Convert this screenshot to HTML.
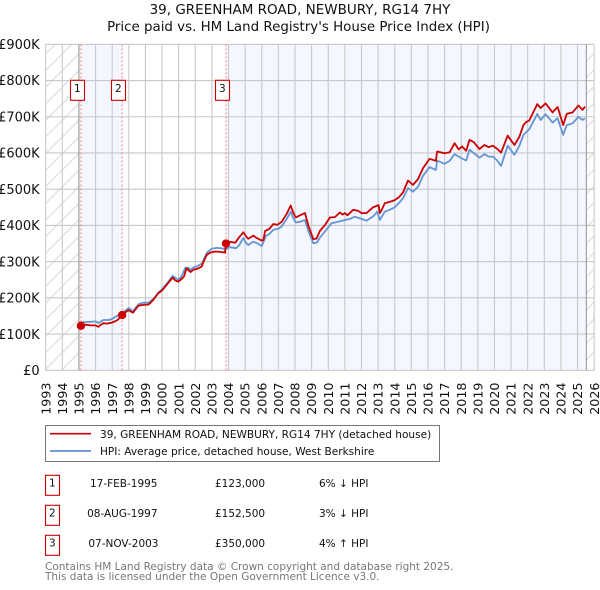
<!DOCTYPE html>
<html>
<head>
<meta charset="utf-8">
<title>39, GREENHAM ROAD, NEWBURY, RG14 7HY</title>
<style>
html,body{margin:0;padding:0;background:#fff;}
body{width:600px;height:590px;overflow:hidden;position:relative;}
svg{position:absolute;left:0;top:0;font-family:"DejaVu Sans",sans-serif;}
</style>
</head>
<body>
<svg id="c" width="600" height="590" viewBox="0 0 600 590">
<defs>
<pattern id="hatch" patternUnits="userSpaceOnUse" width="16.6" height="16.6">
<path d="M-2 2L2 -2M0 16.6L16.6 0M14.6 18.6L18.6 14.6" stroke="#d8d8d8" stroke-width="1" fill="none"/>
</pattern>
<clipPath id="plot-clip"><rect x="45.7" y="44.3" width="548.6" height="326"/></clipPath>
</defs>
<g id="bands"></g>
<g id="grid"></g>
<g id="sales"></g>
<g id="series" clip-path="url(#plot-clip)"></g>
<g id="dots"></g>
<g id="axes"></g>
<text x="300" y="14" text-anchor="middle" font-size="13.5" fill="#111">39, GREENHAM ROAD, NEWBURY, RG14 7HY</text>
<text x="298.5" y="31" text-anchor="middle" font-size="13.4" fill="#111">Price paid vs. HM Land Registry's House Price Index (HPI)</text>

<g>
<rect x="45.5" y="425.5" width="394" height="36" fill="#fff" stroke="#777" stroke-width="1"/>
<line x1="50" y1="433.7" x2="91" y2="433.7" stroke="#cc0000" stroke-width="1.7"/>
<text x="100" y="438" font-size="10.55" fill="#111">39, GREENHAM ROAD, NEWBURY, RG14 7HY (detached house)</text>
<line x1="50" y1="451" x2="91" y2="451" stroke="#6090d0" stroke-width="1.7"/>
<text x="100" y="455" font-size="10.55" fill="#111">HPI: Average price, detached house, West Berkshire</text>
</g>

<g font-size="10.5" fill="#111">
<g>
<rect x="45.5" y="475.3" width="14" height="20" fill="#fff" stroke="#c00" stroke-width="1.1"/>
<text x="52.3" y="486.7" text-anchor="middle">1</text>
<text x="157.5" y="487" text-anchor="end">17-FEB-1995</text>
<text x="215" y="487">£123,000</text>
<text x="319" y="487">6% ↓ HPI</text>
</g>
<g>
<rect x="45.5" y="505.3" width="14" height="20" fill="#fff" stroke="#c00" stroke-width="1.1"/>
<text x="52.3" y="516.7" text-anchor="middle">2</text>
<text x="157.5" y="517" text-anchor="end">08-AUG-1997</text>
<text x="215" y="517">£152,500</text>
<text x="319" y="517">3% ↓ HPI</text>
</g>
<g>
<rect x="45.5" y="535.3" width="14" height="20" fill="#fff" stroke="#c00" stroke-width="1.1"/>
<text x="52.3" y="546.7" text-anchor="middle">3</text>
<text x="158.5" y="547" text-anchor="end">07-NOV-2003</text>
<text x="215" y="547">£350,000</text>
<text x="319" y="547">4% ↑ HPI</text>
</g>
</g>
<text x="45" y="570" font-size="10.5" fill="#777">Contains HM Land Registry data © Crown copyright and database right 2025.</text>
<text x="45" y="580" font-size="10.5" fill="#777">This data is licensed under the Open Government Licence v3.0.</text>
</svg>
<script>
var yearTicks = [1993,1994,1995,1996,1997,1998,1999,2000,2001,2002,2003,2004,2005,2006,2007,2008,2009,2010,2011,2012,2013,2014,2015,2016,2017,2018,2019,2020,2021,2022,2023,2024,2025,2026];
var valueTicks = [0,100,200,300,400,500,600,700,800,900];
var valueLabels = ['£0','£100K','£200K','£300K','£400K','£500K','£600K','£700K','£800K','£900K'];

var priceYears = [1995.12,1995.4,1995.7,1996.0,1996.17,1996.3,1996.47,1996.7,1997.0,1997.3,1997.6,1997.8,1997.97,1998.1,1998.25,1998.4,1998.57,1998.9,1999.17,1999.3,1999.47,1999.77,2000.0,2000.28,2000.64,2000.8,2000.98,2001.15,2001.32,2001.48,2001.6,2001.72,2001.9,2002.1,2002.38,2002.55,2002.68,2002.9,2003.19,2003.5,2003.79,2003.85,2004.09,2004.4,2004.6,2004.89,2005.05,2005.19,2005.49,2005.7,2006.0,2006.1,2006.2,2006.45,2006.7,2006.95,2007.2,2007.5,2007.74,2007.9,2008.04,2008.3,2008.6,2008.8,2009.1,2009.3,2009.5,2009.8,2010.1,2010.4,2010.7,2010.85,2011.0,2011.15,2011.5,2011.8,2012.0,2012.3,2012.7,2012.9,2013.03,2013.1,2013.25,2013.4,2013.7,2014.0,2014.25,2014.5,2014.8,2015.1,2015.4,2015.7,2016.1,2016.48,2016.55,2017.0,2017.3,2017.6,2017.85,2018.05,2018.3,2018.5,2018.75,2019.1,2019.4,2019.65,2019.9,2020.15,2020.4,2020.8,2021.2,2021.5,2021.74,2021.9,2022.1,2022.58,2022.78,2023.08,2023.5,2023.8,2024.14,2024.35,2024.7,2025.05,2025.3,2025.45];
var priceValues = [123,126,124,124,120,125,130,129,132,138,152.5,160,166,163,159,168,178,181,181,186,194,213,220,236,256,248,245,251,259,282,276,271,278,280,286,305,318,325,328,327,325,350,355,352,365,381,370,363,372,365,358,360,385,390,404,402,410,432,455,435,422,428,434,400,362,364,385,401,422,423,436,430,434,428,443,440,434,434,450,454,456,434,446,461,465,470,478,491,524,512,528,558,584,578,604,599,602,627,610,618,606,636,630,611,622,616,620,612,601,648,622,645,677,685,690,735,724,737,712,727,677,708,712,731,719,728];

var hpiYears = [1995.0,1995.3,1995.7,1996.0,1996.17,1996.3,1996.47,1996.8,1997.0,1997.5,1997.8,1998.0,1998.25,1998.4,1998.6,1998.9,1999.2,1999.5,1999.8,2000.0,2000.3,2000.64,2000.8,2001.0,2001.2,2001.4,2001.6,2001.7,2001.9,2002.1,2002.4,2002.7,2003.0,2003.3,2003.5,2003.85,2004.09,2004.45,2004.65,2004.89,2005.05,2005.19,2005.49,2005.75,2006.0,2006.25,2006.45,2006.7,2007.0,2007.2,2007.5,2007.74,2007.9,2008.04,2008.3,2008.6,2008.8,2009.1,2009.3,2009.5,2009.8,2010.2,2010.6,2011.0,2011.3,2011.6,2012.0,2012.3,2012.7,2012.95,2013.1,2013.4,2013.7,2014.0,2014.25,2014.5,2014.8,2015.1,2015.4,2015.7,2016.1,2016.48,2016.55,2017.0,2017.3,2017.6,2018.0,2018.3,2018.5,2018.75,2019.1,2019.4,2019.65,2019.9,2020.15,2020.4,2020.8,2021.2,2021.5,2021.74,2022.1,2022.58,2022.78,2023.08,2023.5,2023.8,2024.14,2024.35,2024.7,2025.05,2025.3,2025.45];
var hpiValues = [130,133,134,135,131,134,139,139,142,156,165,172,163,172,183,187,187,198,215,224,240,261,255,250,262,283,283,277,284,287,295,325,336,338,337,335,340,337,346,365,352,346,355,350,343,371,376,388,391,397,418,438,420,408,410,415,385,351,352,366,383,406,410,415,418,424,418,413,425,438,415,438,443,450,462,475,503,493,507,537,561,553,579,570,578,597,586,579,609,600,587,597,590,590,580,564,620,595,620,650,666,708,691,707,684,696,650,677,682,700,691,696];

var saleYears = [1995.12,1997.6,2003.85];
var saleValues = [123,152.5,350];
var saleLabels = ['1','2','3'];

var X0 = 45.7, YEAR_PX = 16.62, Y0 = 370.3, K_PX = 0.3622;
var NS = 'http://www.w3.org/2000/svg';
function xScale(year){ return X0 + (year - 1993) * YEAR_PX; }
function yScale(k){ return Y0 - k * K_PX; }
function mk(tag, attrs, parent, text){
  var el = document.createElementNS(NS, tag);
  for (var k in attrs) el.setAttribute(k, attrs[k]);
  if (text !== undefined) el.textContent = text;
  parent.appendChild(el);
  return el;
}
function pathFrom(xs, ys){
  return xs.map(function(v, i){ return (i ? 'L' : 'M') + xScale(v).toFixed(1) + ' ' + yScale(ys[i]).toFixed(1); }).join('');
}

var bands = document.getElementById('bands');
var grid = document.getElementById('grid');
var sales = document.getElementById('sales');
var series = document.getElementById('series');
var dots = document.getElementById('dots');
var axes = document.getElementById('axes');
var plotTop = yScale(900), plotBottom = yScale(0), plotRight = xScale(2026);
var dataStart = 1995, dataEnd = 2025.53;

var band;
band = mk('rect', {x: xScale(1993), y: plotTop, width: xScale(dataStart) - xScale(1993), height: plotBottom - plotTop, fill: 'url(#hatch)'}, bands);


band = mk('rect', {x: xScale(dataEnd), y: plotTop, width: plotRight - xScale(dataEnd), height: plotBottom - plotTop, fill: 'url(#hatch)'}, bands);


band = mk('rect', {x: xScale(saleYears[0]), y: plotTop, width: xScale(saleYears[1]) - xScale(saleYears[0]), height: plotBottom - plotTop, fill: '#f4f7ff'}, bands);


band = mk('rect', {x: xScale(saleYears[2]), y: plotTop, width: xScale(dataEnd) - xScale(saleYears[2]), height: plotBottom - plotTop, fill: '#f4f7ff'}, bands);



yearTicks.forEach(function(y){
  var px = xScale(y);
  var g = mk('line', {x1: px, x2: px, y1: plotTop, y2: plotBottom, stroke: '#c8c8c8', 'stroke-width': 1.1}, grid);
  
  
  var t = mk('text', {x: 0, y: 0, 'font-size': 12.7, fill: '#111', 'text-anchor': 'end', transform: 'translate(' + (px + 4.6) + ',382.5) rotate(-90)'}, axes, String(y));
  
  
});
valueTicks.forEach(function(v, i){
  var py = yScale(v);
  var g = mk('line', {x1: xScale(1993), x2: plotRight, y1: py, y2: py, stroke: '#c8c8c8', 'stroke-width': 1.1}, grid);
  
  
  var t = mk('text', {x: 39.7, y: py + 4.7, 'font-size': 13, fill: '#111', 'text-anchor': 'end'}, axes, valueLabels[i]);
  
  
});

var edge;
edge = mk('line', {x1: xScale(dataStart), x2: xScale(dataStart), y1: plotTop, y2: plotBottom, stroke: '#999', 'stroke-width': 1.1}, grid);


edge = mk('line', {x1: xScale(dataEnd), x2: xScale(dataEnd), y1: plotTop, y2: plotBottom, stroke: '#999', 'stroke-width': 1.1}, grid);



saleYears.forEach(function(y, i){
  var px = xScale(y);
  var l = mk('line', {x1: px, x2: px, y1: plotTop, y2: plotBottom, stroke: '#f08080', 'stroke-width': 1, 'stroke-dasharray': '2 2'}, sales);
  
  
  var b = mk('rect', {x: Math.round(px) - 9.5 - (i === 0 ? 1 : 0) + (i === 0 ? 0 : -1), y: 80.3, width: 14, height: 20, fill: '#fff', stroke: '#c00', 'stroke-width': 1.1}, sales);
  
  
  var t = mk('text', {x: Math.round(px) - 2.7 - (i === 0 ? 1 : 0) + (i === 0 ? 0 : -1), y: 92, 'font-size': 10.5, fill: '#111', 'text-anchor': 'middle'}, sales, saleLabels[i]);
  
  
});

var line;
line = mk('path', {d: pathFrom(hpiYears, hpiValues), fill: 'none', stroke: '#6494d4', 'stroke-width': 1.8, 'stroke-linejoin': 'round'}, series);


line = mk('path', {d: pathFrom(priceYears, priceValues), fill: 'none', stroke: '#cc0000', 'stroke-width': 1.8, 'stroke-linejoin': 'round'}, series);



saleYears.forEach(function(y, i){
  var d = mk('circle', {cx: xScale(y), cy: yScale(saleValues[i]), r: 4.2, fill: '#cc0000'}, dots);
  
  
});
</script>
</body>
</html>
